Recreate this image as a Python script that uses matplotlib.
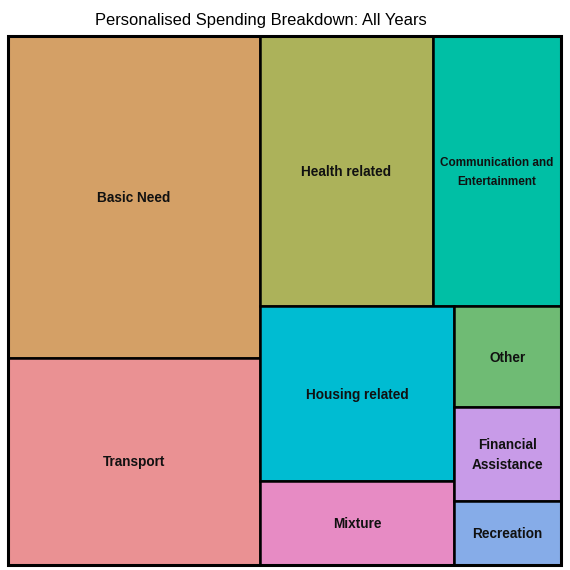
import matplotlib
matplotlib.use("Agg")
import matplotlib.pyplot as plt
from matplotlib.patches import Rectangle

plt.rcParams['font.family'] = ['Liberation Sans', 'DejaVu Sans']

# spending per category (relative sizes)
categories = ["Basic Need", "Transport", "Health related",
              "Communication and\nEntertainment", "Housing related", "Mixture",
              "Other", "Financial\nAssistance", "Recreation"]
spending = [80900, 52200, 46700, 34600, 33800, 16300, 10700, 10050, 6850]
colors = ["#D4A066", "#EA9193", "#ACB25A", "#00BFA5", "#00BCD2",
          "#E78BC4", "#6FBB74", "#C89BE8", "#86ACE8"]


def pivot_size(items, x, y, w, h, out):
    """Pivot-by-size treemap layout (items sorted by size, descending)."""
    if not items:
        return
    if len(items) == 1:
        out.append((items[0], x, y, w, h))
        return
    total = sum(v for v, _ in items)
    pivot, rest = items[0], items[1:]
    best_k, best_dev = 0, None
    for k in range(len(rest) + 1):
        s = pivot[0] + sum(v for v, _ in rest[:k])
        if w >= h:
            cw = w * s / total
            ph = h * pivot[0] / s
            ar = max(cw / ph, ph / cw)
        else:
            ch = h * s / total
            pw = w * pivot[0] / s
            ar = max(ch / pw, pw / ch)
        if best_dev is None or ar < best_dev:
            best_k, best_dev = k, ar
    l2, l3 = rest[:best_k], rest[best_k:]
    s = pivot[0] + sum(v for v, _ in l2)
    if w >= h:
        cw = w * s / total
        ph = h * pivot[0] / s
        out.append((pivot, x, y, cw, ph))
        pivot_size(l2, x, y + ph, cw, h - ph, out)
        pivot_size(l3, x + cw, y, w - cw, h, out)
    else:
        ch = h * s / total
        pw = w * pivot[0] / s
        out.append((pivot, x, y, pw, ch))
        pivot_size(l2, x + pw, y, w - pw, ch, out)
        pivot_size(l3, x, y + ch, w, h - ch, out)


W, H = 553.0, 529.0
items = sorted(zip(spending, range(len(spending))), reverse=True)
rects = []
pivot_size(items, 0, 0, W, H, rects)

fig = plt.figure(figsize=(5.7, 5.7), dpi=100)
ax = fig.add_axes([8 / 570, 5 / 570, 553 / 570, 529 / 570])
ax.set_xlim(0, W)
ax.set_ylim(H, 0)
ax.axis("off")

renderer = fig.canvas.get_renderer()
base_size = 9.8
for (val, i), x, y, w, h in rects:
    ax.add_patch(Rectangle((x, y), w, h, facecolor=colors[i],
                           edgecolor="black", linewidth=1.8))
    t = ax.text(x + w / 2, y + h / 2 + 1, categories[i], ha="center", va="center",
                fontsize=base_size, fontweight="bold", color="#111111",
                linespacing=1.5)
    # shrink labels that don't fit in their box
    tw = t.get_window_extent(renderer).width
    if tw > 0.88 * w:
        t.set_fontsize(base_size * 0.88 * w / tw)
        t.set_linespacing(1.75)

ax.add_patch(Rectangle((0, 0), W, H, fill=False, edgecolor="black",
                       linewidth=2.2, clip_on=False))

fig.text(261 / 570, 1 - 21 / 570, "Personalised Spending Breakdown: All Years",
         ha="center", va="center", fontsize=11.9)

fig.savefig("out.png", dpi=100, facecolor="white")
